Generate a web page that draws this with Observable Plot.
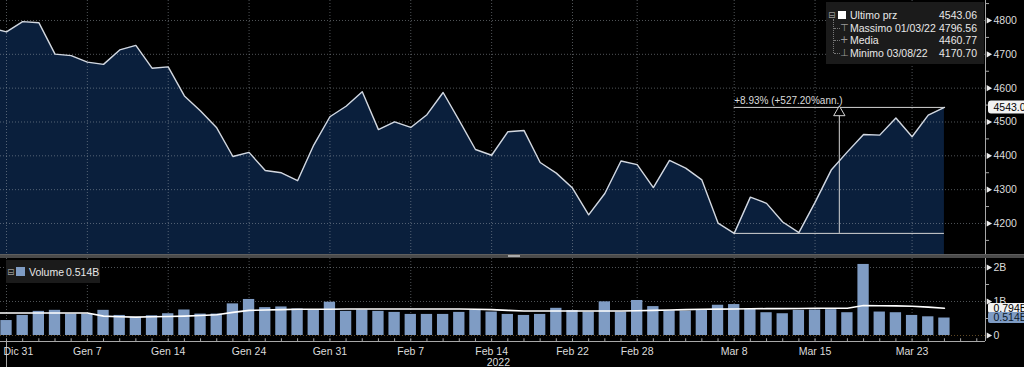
<!DOCTYPE html>
<html><head><meta charset="utf-8">
<script src="https://cdn.jsdelivr.net/npm/d3@7"></script>
<script src="https://cdn.jsdelivr.net/npm/@observablehq/plot@0.6"></script>
<style>
html,body{margin:0;padding:0;background:#000;}
#wrap{position:relative;width:1024px;height:367px;background:#000;overflow:hidden;font-family:"Liberation Sans",Arial,sans-serif;}
#wrap svg{display:block;}
#sep{position:relative;height:4px;width:1024px;background:#4a4a4a;border-top:1px solid #5e5e5e;box-sizing:border-box;}
.lg{position:absolute;background:#1b1b1b;color:#e8e8e8;font-size:10.5px;white-space:nowrap;}
.lg .row{position:absolute;height:14px;line-height:14px;left:0;right:0;}
.lg .ic{position:absolute;color:#9a9a9a;font-family:"DejaVu Sans",sans-serif;font-size:9px;}
.lg .sq{position:absolute;}
.lg .lab{position:absolute;}
.lg .val{position:absolute;right:7px;}
</style></head>
<body>
<div id="wrap">
  <div id="price"></div>
  <div id="sep"><div style="position:absolute;left:508px;top:0px;width:12px;height:2px;background:#aaa"></div></div>
  <div id="vol"></div>
  <div id="leg1" class="lg" style="left:826px;top:2px;width:158px;height:62px;"></div>
  <div id="leg2" class="lg" style="left:6px;top:260px;width:94px;height:23px;"></div>
</div>
<script>
// ---------- data ----------
const days = ["2021-12-30","2021-12-31","2022-01-03","2022-01-04","2022-01-05","2022-01-06","2022-01-07","2022-01-10","2022-01-11","2022-01-12",
"2022-01-13","2022-01-14","2022-01-18","2022-01-19","2022-01-20","2022-01-21","2022-01-24","2022-01-25","2022-01-26","2022-01-27",
"2022-01-28","2022-01-31","2022-02-01","2022-02-02","2022-02-03","2022-02-04","2022-02-07","2022-02-08","2022-02-09","2022-02-10",
"2022-02-11","2022-02-14","2022-02-15","2022-02-16","2022-02-17","2022-02-18","2022-02-22","2022-02-23","2022-02-24","2022-02-25",
"2022-02-28","2022-03-01","2022-03-02","2022-03-03","2022-03-04","2022-03-07","2022-03-08","2022-03-09","2022-03-10","2022-03-11",
"2022-03-14","2022-03-15","2022-03-16","2022-03-17","2022-03-18","2022-03-21","2022-03-22","2022-03-23","2022-03-24","2022-03-25"];
const close = [4778.73,4766.18,4796.56,4793.54,4700.58,4696.05,4677.03,4670.29,4713.07,4726.35,
4659.03,4662.85,4577.11,4532.76,4482.73,4397.94,4410.13,4356.45,4349.93,4326.51,
4431.85,4515.55,4546.54,4589.38,4477.44,4500.53,4483.87,4521.54,4587.18,4504.08,
4418.64,4401.67,4471.07,4475.01,4380.26,4348.87,4304.76,4225.50,4288.70,4384.65,
4373.94,4306.26,4386.54,4363.49,4328.87,4201.09,4170.70,4277.88,4259.52,4204.31,
4173.11,4262.45,4357.86,4411.67,4463.12,4461.18,4511.61,4456.24,4520.16,4543.06];
// volume in billions
const volume = [null,
0.44,0.59,0.71,0.74,0.63,0.63,0.74,0.59,0.53,0.58,
0.64,0.75,0.63,0.63,0.93,1.06,0.82,0.84,0.78,0.74,
0.98,0.71,0.75,0.71,0.68,0.62,0.62,0.62,0.68,0.74,
0.69,
0.62,0.59,0.62,0.80,0.73,0.69,0.99,0.69,1.03,0.85,
0.73,0.72,0.75,0.89,0.91,0.78,0.67,0.64,0.74,0.75,
0.76,0.67,2.09,0.69,0.67,0.59,0.55,0.514];
const volumeAvg = [0.66,
0.66,0.66,0.66,0.66,0.66,0.66,
0.57,0.55,0.54,0.55,0.56,0.57,0.59,0.61,0.68,0.74,
0.75,0.76,0.77,0.77,0.77,0.78,0.78,0.78,0.78,0.78,
0.78,0.78,0.78,0.77,0.76,0.74,0.72,0.72,0.72,0.72,
0.72,0.72,0.72,0.73,0.74,0.75,0.76,0.77,0.775,0.78,
0.785,0.79,0.79,0.795,0.80,0.80,0.80,0.88,0.875,0.87,
0.86,0.835,0.80];
const tickDates = ["2021-12-31","2022-01-07","2022-01-14","2022-01-24","2022-01-31","2022-02-07","2022-02-14","2022-02-22","2022-02-28","2022-03-08","2022-03-15","2022-03-23"];
const tickLabels = ["Dic 31","Gen 7","Gen 14","Gen 24","Gen 31","Feb 7","Feb 14","Feb 22","Feb 28","Mar 8","Mar 15","Mar 23"];
const yearDate = ["2022-02-14"];
const yearText = ["2022"];
const priceTicks = [4200,4300,4400,4500,4600,4700,4800];
const priceMinor = [4150,4250,4350,4450,4550,4650,4750,4850];
const volTicks = [0,1,2];
const volTickLabels = ["0","1B","2B"];
const volMinor = [0.5,1.5];
const legendLabels = ["Ultimo prz","Massimo 01/03/22","Media","Minimo 03/08/22"];
const legendValues = ["4543.06","4796.56","4460.77","4170.70"];
const legendGlyphs = ["", "\u22A4", "+", "\u22A5"];
const volLegend = ["Volume","0.514B"];
const volAvgLast = [0.794];
const annualized = ["527.20"];

// ---------- derived ----------
const rows = days.map((d,k)=>({pos:k, date:d, close:close[k], vol:volume[k], ma:volumeAvg[k]}));
const volRows = rows.filter(r=>r.vol!=null);
const posOf = d => days.indexOf(d);
const ticks = tickDates.map((d,k)=>({pos:posOf(d), label:tickLabels[k]}));
const xDomain = [0.629, 61.54];
const priceDomain = [4108.3, 4859.1];
const volDomain = [-0.1765, 2.2647];
const lastClose = close[close.length-1];
const lastVol = volume[volume.length-1];
const lastPos = close.length-1;
const minClose = d3.min(close);
const minPos = close.indexOf(minClose);
const midPos = (minPos+lastPos)/2;
const annText = `+${((lastClose/minClose-1)*100).toFixed(2)}% (+${annualized[0]}%ann.)`;
const dayTicks = d3.range(Math.ceil(xDomain[0]), Math.floor(xDomain[1])+1);

// pixel-to-data helpers for the value tags on the right axis
const pxX = 985/(xDomain[1]-xDomain[0]);
const pxP = 254/(priceDomain[1]-priceDomain[0]);
const pxV = 83/(volDomain[1]-volDomain[0]);
const tagX1 = xDomain[1] + 3/pxX, tagX2 = xDomain[1] + 60/pxX;

const font = "Liberation Sans, Arial, sans-serif";
const grid = {stroke:"#a0a8b0", strokeOpacity:0.5, strokeDasharray:"1,2"};
const axisCol = "#a8a8a8";
const labCol = "#dcdcdc";
const xMax = () => xDomain[1];

const chart1 = Plot.plot({
  width:1024, height:254, marginLeft:0, marginRight:39, marginTop:0, marginBottom:0,
  style:{background:"transparent", color:labCol, fontFamily:font, fontSize:"10px", overflow:"visible"},
  x:{domain:xDomain, axis:null},
  y:{domain:priceDomain, axis:null},
  marks:[
    Plot.areaY(rows, {x:"pos", y1:priceDomain[0], y2:"close", fill:"#0a1f3c", clip:true}),
    Plot.ruleY(priceTicks, grid),
    Plot.ruleX(ticks, {x:"pos", ...grid}),
    Plot.ruleY([minClose, lastClose], {y:d=>d, x1:minPos, x2:lastPos, stroke:"#d4d4d4", strokeWidth:1}),
    Plot.ruleX([midPos], {x:d=>d, y1:minClose, y2:lastClose, stroke:"#d4d4d4", strokeWidth:1}),
    Plot.lineY(rows, {x:"pos", y:"close", stroke:"#d3d8e0", strokeWidth:1.4, clip:true}),
    Plot.dot([lastClose], {x:()=>midPos, y:d=>d, symbol:"triangle", r:4.2, fill:"#000", stroke:"#d4d4d4", strokeWidth:1, dy:5}),
    Plot.text([annText], {x:()=>minPos, y:()=>lastClose, text:d=>d, textAnchor:"start", dy:-7, fill:"#dcdcdc", fontSize:10}),
    Plot.ruleX([xDomain[1]], {x:d=>d, stroke:axisCol}),
    Plot.ruleY(priceMinor, {y:d=>d, x1:xDomain[1], x2:xDomain[1]+0.25, stroke:axisCol}),
    Plot.dot(priceTicks, {x:xMax, y:d=>d, symbol:"triangle", rotate:90, r:2.3, fill:"#ececec", dx:3}),
    Plot.text(priceTicks, {x:xMax, y:d=>d, text:d=>String(d), dx:8, textAnchor:"start", fill:labCol, fontSize:10.5}),
    Plot.rect([lastClose], {x1:tagX1, x2:tagX2, y1:d=>d-6.5/pxP, y2:d=>d+6.5/pxP, fill:"#f2f2f2", rx:3}),
    Plot.text([lastClose], {x:xMax, y:d=>d, text:d=>d.toFixed(2), dx:8, textAnchor:"start", fill:"#000", fontSize:10.5})
  ]
});

const chart2 = Plot.plot({
  width:1024, height:109, marginLeft:0, marginRight:39, marginTop:0, marginBottom:26,
  style:{background:"transparent", color:labCol, fontFamily:font, fontSize:"10px", overflow:"visible"},
  x:{domain:xDomain, axis:null},
  y:{domain:volDomain, axis:null},
  marks:[
    Plot.ruleY([1,2], grid),
    Plot.ruleY([0], {stroke:"#a07a40", strokeOpacity:0.6, strokeDasharray:"1,2"}),
    Plot.ruleX(ticks, {x:"pos", ...grid}),
    Plot.rectY(volRows, {x1:d=>d.pos-0.35, x2:d=>d.pos+0.35, y1:0, y2:"vol", fill:"#7f9cc4", clip:true}),
    Plot.lineY(rows, {x:"pos", y:"ma", stroke:"#ffffff", strokeWidth:1.6, clip:true}),
    Plot.ruleY([volDomain[0]], {y:d=>d, stroke:axisCol}),
    Plot.ruleX([xDomain[1]], {x:d=>d, stroke:axisCol}),
    Plot.ruleX(dayTicks, {x:d=>d, y1:volDomain[0], y2:volDomain[0]+0.08, stroke:axisCol}),
    Plot.ruleX([ticks[0]], {x:"pos", y1:volDomain[0], y2:volDomain[0]-0.77, stroke:axisCol}),
    Plot.text(ticks.slice(0,1), {x:"pos", y:()=>volDomain[0], text:"label", dy:10, dx:-3, textAnchor:"start", fill:labCol, fontSize:10.5}),
    Plot.text(ticks.slice(1), {x:"pos", y:()=>volDomain[0], text:"label", dy:10, fill:labCol, fontSize:10.5}),
    Plot.text(yearText, {x:(d,k)=>posOf(yearDate[k]), y:()=>volDomain[0], text:d=>d, dy:21, dx:-5, textAnchor:"start", fill:labCol, fontSize:10.5}),
    Plot.ruleY(volMinor, {y:d=>d, x1:xDomain[1], x2:xDomain[1]+0.25, stroke:axisCol}),
    Plot.dot(volTicks, {x:xMax, y:d=>d, symbol:"triangle", rotate:90, r:2.3, fill:"#ececec", dx:3}),
    Plot.text(volTicks, {x:xMax, y:d=>d, text:(d,k)=>volTickLabels[k], dx:8, textAnchor:"start", fill:labCol, fontSize:10.5}),
    Plot.rect(volAvgLast, {x1:tagX1, x2:tagX2, y1:d=>d-5/pxV, y2:d=>d+5/pxV, fill:"#f2f2f2", rx:2}),
    Plot.text(volAvgLast, {x:xMax, y:d=>d, text:d=>d.toFixed(3)+"B", dx:8, textAnchor:"start", fill:"#000", fontSize:10.5}),
    Plot.rect([lastVol], {x1:tagX1, x2:tagX2, y1:d=>d-5.5/pxV, y2:d=>d+5.5/pxV, fill:"#7f9cc4", rx:2}),
    Plot.text([lastVol], {x:xMax, y:d=>d, text:d=>d.toFixed(3)+"B", dx:8, textAnchor:"start", fill:"#0d1a2a", fontSize:10.5})
  ]
});

document.getElementById("price").appendChild(chart1);
document.getElementById("vol").appendChild(chart2);

// ---------- legends ----------
const leg1 = document.getElementById("leg1");
const centers = [13, 25.5, 38, 50.5];
let html = `<div style="position:absolute;left:7px;top:17px;height:34px;border-left:1px dotted #777"></div>`;
legendLabels.forEach((lab,k)=>{
  const top = centers[k]-7;
  html += `<div class="row" style="top:${top}px">`;
  if (k===0) {
    html += `<span class="ic" style="left:2px;top:0px">\u229F</span>`;
    html += `<span class="sq" style="left:12px;top:3px;width:8px;height:8px;background:#fff"></span>`;
  } else {
    html += `<span style="position:absolute;left:8px;top:7px;width:6px;border-top:1px dotted #777"></span>`;
    html += `<span class="ic" style="left:14px;top:0px;font-size:10px">${legendGlyphs[k]}</span>`;
  }
  html += `<span class="lab" style="left:24px">${lab}</span><span class="val">${legendValues[k]}</span></div>`;
});
leg1.innerHTML = html;

const leg2 = document.getElementById("leg2");
leg2.innerHTML = `<div class="row" style="top:5px">
  <span class="ic" style="left:1px;top:0px">\u229F</span>
  <span class="sq" style="left:10px;top:2px;width:9px;height:9px;background:#7f9cc4"></span>
  <span class="lab" style="left:23px">${volLegend[0]}</span>
  <span class="lab" style="left:60px">${volLegend[1]}</span></div>`;
</script>
</body></html>
